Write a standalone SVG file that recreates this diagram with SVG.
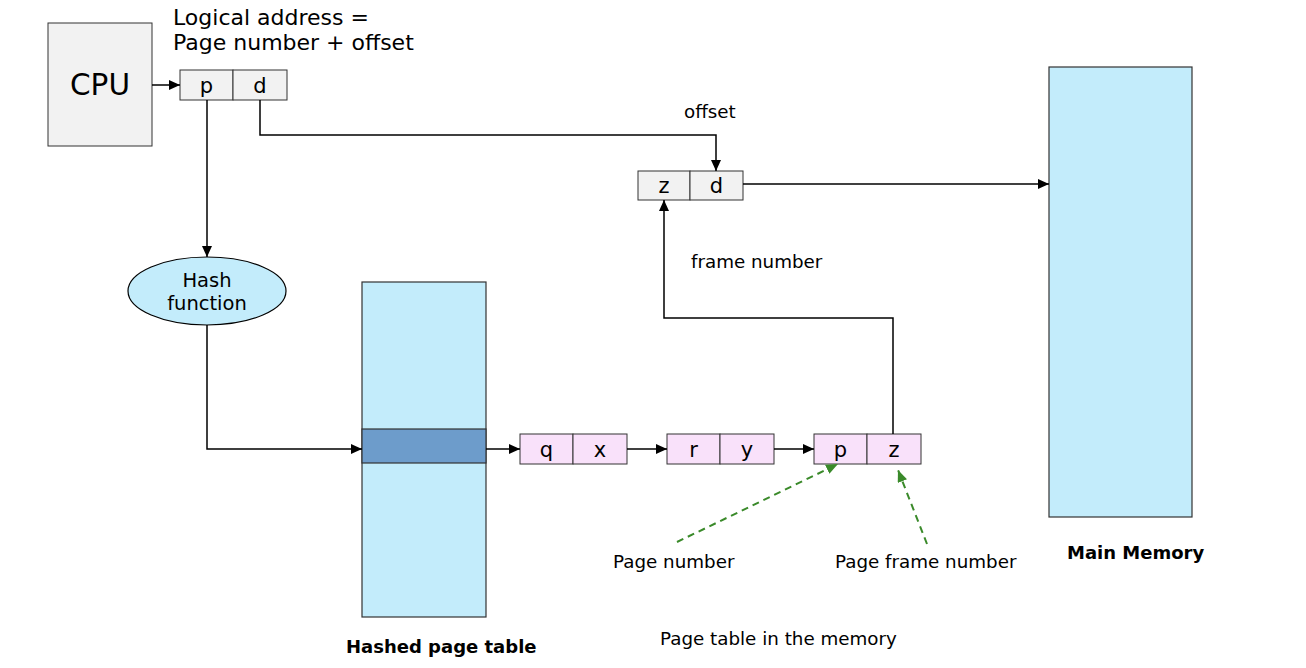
<svg xmlns="http://www.w3.org/2000/svg" width="1306" height="668" viewBox="0 0 1306 668">
<style>
text{font-family:"DejaVu Sans","Liberation Sans",sans-serif;fill:#000}
.cell{fill:#f2f2f2;stroke:#333;stroke-width:1}
.pink{fill:#f9e1fa;stroke:#333;stroke-width:1}
.blue{fill:#c3ecfb;stroke:#333;stroke-width:1.2}
.ln{fill:none;stroke:#000;stroke-width:1.5}
.gd{fill:none;stroke:#3a8a2a;stroke-width:2;stroke-dasharray:7,5}
.c{text-anchor:middle}
.lbl{font-size:18.3px}
.b{font-weight:bold;font-size:18px}
</style>
<defs>
<marker id="ah" markerWidth="11" markerHeight="10" refX="11" refY="5" orient="auto" markerUnits="userSpaceOnUse"><path d="M0,0 L11,5 L0,10 z" fill="#000"/></marker>
<marker id="gh" markerWidth="12" markerHeight="10" refX="12" refY="5" orient="auto" markerUnits="userSpaceOnUse"><path d="M0,0 L12,5 L0,10 z" fill="#3a8a2a"/></marker>
</defs>
<g id="cpu"><rect class="cell" x="48" y="23" width="104" height="123"/><text x="100" y="95" class="c" font-size="29.5">CPU</text></g>
<g id="logical-label"><text x="173" y="25" font-size="22">Logical address =</text><text x="173" y="50" font-size="22">Page number + offset</text></g>
<g id="logical-address"><rect class="cell" x="180" y="70" width="53" height="30"/><rect class="cell" x="233" y="70" width="54" height="30"/><text x="206.5" y="93" class="c" font-size="21">p</text><text x="260" y="93" class="c" font-size="21">d</text></g>
<g id="physical-address"><rect class="cell" x="638" y="171" width="52" height="29"/><rect class="cell" x="690" y="171" width="53" height="29"/><text x="664" y="193" class="c" font-size="21">z</text><text x="716.5" y="193" class="c" font-size="21">d</text></g>
<g id="hash-function"><ellipse cx="207" cy="291" rx="79" ry="34" fill="#c3ecfb" stroke="#000" stroke-width="1.2"/><text x="207" y="287" class="c" font-size="19.5">Hash</text><text x="207" y="310" class="c" font-size="19.5">function</text></g>
<g id="hashed-page-table"><rect class="blue" x="362" y="282" width="124" height="335"/><rect x="362" y="429" width="124" height="34" fill="#6d9ccb" stroke="#333" stroke-width="1.2"/></g>
<g id="main-memory"><rect class="blue" x="1049" y="67" width="143" height="450"/></g>
<g id="entry-qx"><rect class="pink" x="520" y="434" width="53" height="30"/><rect class="pink" x="573" y="434" width="54" height="30"/><text x="546.5" y="457" class="c" font-size="21">q</text><text x="600" y="457" class="c" font-size="21">x</text></g>
<g id="entry-ry"><rect class="pink" x="667" y="434" width="53" height="30"/><rect class="pink" x="720" y="434" width="54" height="30"/><text x="693.5" y="457" class="c" font-size="21">r</text><text x="747" y="457" class="c" font-size="21">y</text></g>
<g id="entry-pz"><rect class="pink" x="814" y="434" width="53" height="30"/><rect class="pink" x="867" y="434" width="54" height="30"/><text x="840.5" y="457" class="c" font-size="21">p</text><text x="894" y="457" class="c" font-size="21">z</text></g>
<g id="connectors">
<path class="ln" d="M152,85 H180" marker-end="url(#ah)"/>
<path class="ln" d="M260,100 V135 H716 V171" marker-end="url(#ah)"/>
<path class="ln" d="M743,184 H1049" marker-end="url(#ah)"/>
<path class="ln" d="M207,100 V257" marker-end="url(#ah)"/>
<path class="ln" d="M207,325 V449 H362" marker-end="url(#ah)"/>
<path class="ln" d="M486,449 H520" marker-end="url(#ah)"/>
<path class="ln" d="M627,449 H667" marker-end="url(#ah)"/>
<path class="ln" d="M774,449 H814" marker-end="url(#ah)"/>
<path class="ln" d="M893,434 V318 H664 V200" marker-end="url(#ah)"/>
<path class="gd" d="M677,542 L838,464" marker-end="url(#gh)"/>
<path class="gd" d="M927,544 L898,470" marker-end="url(#gh)"/>
</g>
<g id="labels">
<text x="684" y="118" class="lbl">offset</text>
<text x="691" y="268" class="lbl">frame number</text>
<text x="613" y="568" class="lbl">Page number</text>
<text x="835" y="568" class="lbl">Page frame number</text>
<text x="1067" y="559" class="b">Main Memory</text>
<text x="346" y="653" class="b">Hashed page table</text>
<text x="660" y="645" class="lbl">Page table in the memory</text>
</g>
</svg>
